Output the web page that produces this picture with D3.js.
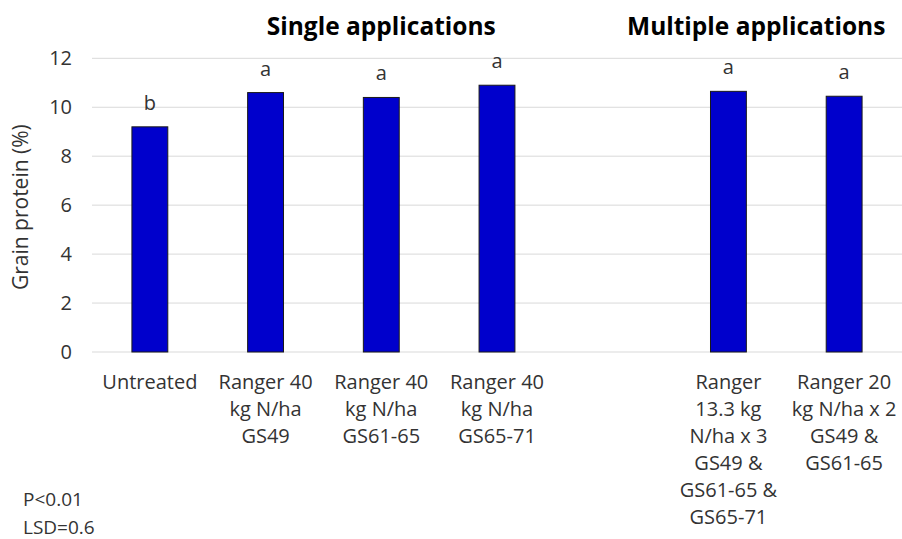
<!DOCTYPE html>
<html>
<head>
<meta charset="utf-8">
<script src="https://cdn.jsdelivr.net/npm/d3@7"></script>
<style>
  html, body { margin: 0; padding: 0; background: #fff; }
  svg { display: block; font-family: "Open Sans", "Noto Sans", sans-serif; }
</style>
</head>
<body>
<svg id="chart" width="902" height="539"></svg>
<script>
// ---- data ----
const slots = ["untreated", "s49", "s6165", "s6571", "gap", "m3", "m2"];
const categoryLines = [
  ["Untreated"],
  ["Ranger 40", "kg N/ha", "GS49"],
  ["Ranger 40", "kg N/ha", "GS61-65"],
  ["Ranger 40", "kg N/ha", "GS65-71"],
  [],
  ["Ranger", "13.3 kg", "N/ha x 3", "GS49 &", "GS61-65 &", "GS65-71"],
  ["Ranger 20", "kg N/ha x 2", "GS49 &", "GS61-65"]
];
const proteinValues = [9.2, 10.6, 10.4, 10.9, null, 10.65, 10.45];
const significance = ["b", "a", "a", "a", "", "a", "a"];
const yTicks = [0, 2, 4, 6, 8, 10, 12];
const groupTitles = [
  { text: "Single applications", slot: "s6165", at: 0.5 },
  { text: "Multiple applications", slot: "m3", at: 0.74 }
];
const statsNotes = ["P<0.01", "LSD=0.6"];
const yTitle = "Grain protein (%)";

// ---- layout ----
const svg = d3.select("#chart");
const plot = { left: 92, right: 902, top: 58.3, bottom: 352 };
const textColor = "#333333";

const x = d3.scaleBand().domain(slots).range([plot.left, plot.right]).padding(0);
const y = d3.scaleLinear().domain([0, 12]).range([plot.bottom, plot.top]);
const barW = x.bandwidth() * 0.31;

// gridlines
svg.append("g")
  .selectAll("line")
  .data(yTicks)
  .join("line")
  .attr("x1", plot.left).attr("x2", plot.right)
  .attr("y1", d => y(d)).attr("y2", d => y(d))
  .attr("stroke", "#d9d9d9").attr("stroke-width", 1);

// y axis labels
const yAxis = d3.axisLeft(y).tickValues(yTicks).tickSize(0).tickPadding(0).tickFormat(d3.format("d"));
const ya = svg.append("g").attr("transform", `translate(${plot.left - 20},0)`).call(yAxis);
ya.select(".domain").remove();
ya.selectAll("text").attr("font-size", 20).attr("fill", textColor).attr("font-family", "'Open Sans', sans-serif");

// y title
svg.append("text")
  .attr("transform", `translate(28,${(plot.top + plot.bottom) / 2 + 2}) rotate(-90)`)
  .attr("text-anchor", "middle")
  .attr("font-size", 21)
  .attr("fill", textColor)
  .text(yTitle);

// bars
const barData = slots.map((s, i) => ({ s, v: proteinValues[i], l: significance[i] })).filter(d => d.v != null);
svg.append("g")
  .selectAll("rect")
  .data(barData)
  .join("rect")
  .attr("x", d => x(d.s) + x.bandwidth() / 2 - barW / 2)
  .attr("width", barW)
  .attr("y", d => y(d.v))
  .attr("height", d => y(0) - y(d.v))
  .attr("fill", "#0000CC")
  .attr("stroke", "#1a1a1a")
  .attr("stroke-width", 1);

// significance letters
svg.append("g")
  .selectAll("text")
  .data(barData)
  .join("text")
  .attr("x", d => x(d.s) + x.bandwidth() / 2)
  .attr("y", d => y(d.v) - 17)
  .attr("text-anchor", "middle")
  .attr("font-size", 20)
  .attr("fill", textColor)
  .text(d => d.l);

// category labels
const catG = svg.append("g");
slots.forEach((s, i) => {
  const t = catG.append("text")
    .attr("x", x(s) + x.bandwidth() / 2)
    .attr("y", 389)
    .attr("text-anchor", "middle")
    .attr("font-size", 20)
    .attr("fill", textColor);
  categoryLines[i].forEach((line, k) => {
    t.append("tspan")
      .attr("x", x(s) + x.bandwidth() / 2)
      .attr("y", 389 + k * 27)
      .text(line);
  });
});

// group titles
groupTitles.forEach(g => {
  svg.append("text")
    .attr("x", x(g.slot) + x.bandwidth() * g.at)
    .attr("y", 35)
    .attr("text-anchor", "middle")
    .attr("font-size", 24.5)
    .attr("font-weight", "bold")
    .attr("fill", "#000")
    .text(g.text);
});

// stats notes
statsNotes.forEach((n, k) => {
  svg.append("text")
    .attr("x", 23)
    .attr("y", 506 + k * 28)
    .attr("font-size", 19)
    .attr("fill", textColor)
    .text(n);
});
</script>
</body>
</html>
